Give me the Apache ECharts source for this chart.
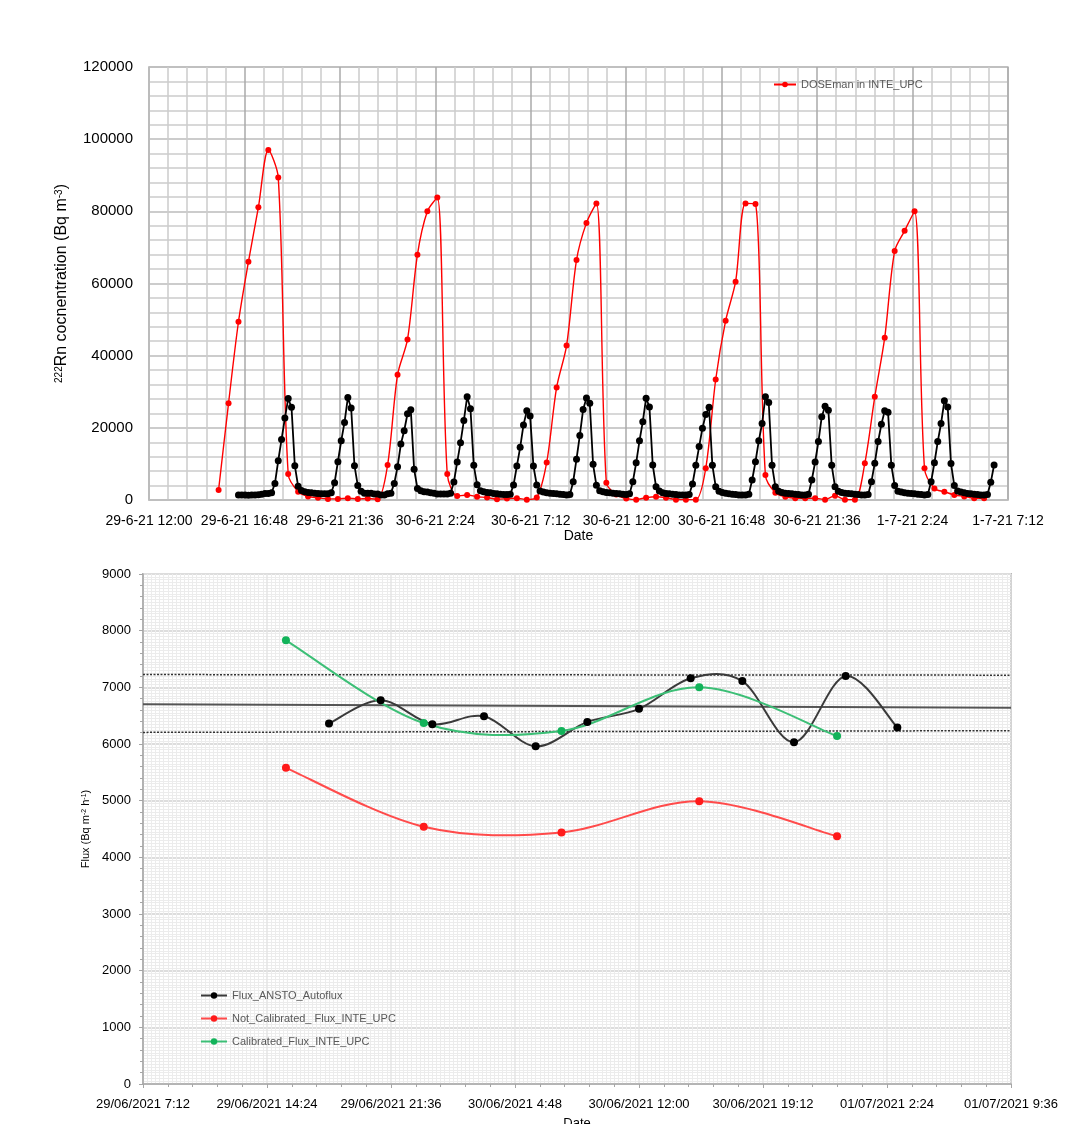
<!DOCTYPE html>
<html>
<head>
<meta charset="utf-8">
<title>Radon concentration and flux, INTE_UPC</title>
<script src="https://cdn.jsdelivr.net/npm/echarts@6/dist/echarts.min.js"></script>
<style>
  html, body { margin: 0; padding: 0; background: #ffffff; }
  #chart { width: 1081px; height: 1124px; }
</style>
</head>
<body>
<div id="chart"></div>
<script>
// ---------------- Upper panel: 222Rn concentration ----------------
// DOSEman readings every 30 minutes, starting 29-6-21 15:30
const dosemanStart = '2021-06-29 15:30';
const dosemanStepMin = 30;
const dosemanValues = [
  2800, 26800, 49400, 66000, 81100, 97000, 89400, 7200, 2300, 1000, 600, 300, 300, 500, 300, 400, 200,
  9700, 34700, 44500, 68000, 80000, 83800, 7200, 1100, 1400, 900, 700, 200, 400, 500, 100, 700,
  10400, 31200, 42800, 66500, 76800, 82200, 4800, 1500, 450, 100, 650, 900, 650, 100, 100, 100,
  8800, 33400, 49700, 60500, 82200, 82000, 6900, 2000, 900, 500, 500, 500, 100, 1200, 100, 100,
  10200, 28600, 45000, 69000, 74600, 80000, 8800, 3200, 2300, 1400, 1000, 500, 500
];

// Reference monitor readings every 10 minutes, starting 29-6-21 16:30
const anstoStart = '2021-06-29 16:30';
const anstoStepMin = 10;
const anstoRnValues = [
  1400, 1400, 1400, 1350, 1400, 1400, 1450, 1600, 1800, 1800, 2000,
  4600, 10900, 16800, 22700, 28100, 25700, 9500, 3800, 2600,
  2300, 2100, 2000, 1900, 1800, 1700, 1700, 1700, 2000,
  4800, 10600, 16400, 21500, 28400, 25500, 9500, 4000, 2400,
  1850, 1850, 1850, 1660, 1660, 1400, 1400, 1700, 1900,
  4600, 9200, 15500, 19200, 23900, 25000, 8500, 3200,
  2590, 2310, 2200, 2030, 1850, 1660, 1660, 1660, 1660, 1850,
  5000, 10500, 15900, 22000, 28600, 25300, 9600, 4250, 2590,
  2300, 2100, 2000, 1800, 1700, 1600, 1500, 1500, 1600,
  4150, 9400, 14600, 20800, 24700, 23300, 9400, 4150, 2500,
  2200, 2000, 1900, 1800, 1700, 1600, 1500, 1400, 1500,
  5070, 11300, 17900, 25100, 28300, 26800, 9900, 4070, 2580,
  2300, 2100, 2000, 1900, 1800, 1700, 1600, 1500, 1700,
  5070, 10300, 16400, 21700, 28200, 25800, 9700, 3700, 2500,
  2000, 1800, 1700, 1600, 1500, 1400, 1400, 1400, 1500,
  4430, 9600, 14800, 19900, 23700, 25700, 9600, 3700, 2400,
  2100, 1900, 1700, 1600, 1500, 1400, 1400, 1400, 1600,
  5540, 10600, 16400, 21200, 28600, 27000, 9600, 3700, 2400,
  2100, 1900, 1800, 1700, 1600, 1500, 1400, 1400, 1600,
  5540, 10500, 16200, 23100, 26000, 24900, 9600, 3700, 2400,
  2100, 1900, 1800, 1700, 1600, 1500, 1400, 1400, 1500,
  5070, 10200, 16200, 21000, 24700, 24300, 9600, 4000, 2400,
  2200, 2000, 1900, 1800, 1700, 1600, 1500, 1400, 1500,
  5070, 10300, 16200, 21200, 27500, 25800, 10100, 4000, 2500,
  2200, 2000, 1800, 1700, 1600, 1500, 1400, 1400, 1500,
  4900, 9700
];

// Upper time axis: 29-6-21 12:00 to 1-7-21 7:12, labels every 4.8 h
const topAxisOrigin = '2021-06-29 12:00';
const topAxisSpanH = 43.2;
const topAxisStepH = 4.8;

// ---------------- Lower panel: exhalation flux ----------------
const anstoFluxTimes = [
  '2021-06-29 18:00', '2021-06-29 21:00', '2021-06-30 00:00', '2021-06-30 03:00',
  '2021-06-30 06:00', '2021-06-30 09:00', '2021-06-30 12:00', '2021-06-30 15:00',
  '2021-06-30 18:00', '2021-06-30 21:00', '2021-07-01 00:00', '2021-07-01 03:00'
];
const anstoFluxValues = [6360, 6770, 6350, 6490, 5960, 6390, 6620, 7160, 7110, 6030, 7200, 6290];

const upcFluxTimes = [
  '2021-06-29 15:30', '2021-06-29 23:30', '2021-06-30 07:30', '2021-06-30 15:30', '2021-06-30 23:30'
];
const notCalibratedValues = [5580, 4540, 4440, 4990, 4370];
const calibratedValues = [7830, 6370, 6230, 7000, 6140];

// Mean level and band across the whole window (left edge, right edge)
const meanFluxLine = [6700, 6640];
const upperBandLine = [7225, 7215];
const lowerBandLine = [6205, 6235];

// Lower time axis: 29/06/2021 7:12 to 01/07/2021 9:36, labels every 7.2 h
const bottomAxisOrigin = '2021-06-29 07:12';
const bottomAxisSpanH = 50.4;
const bottomAxisStepH = 7.2;

// ---------------- helpers ----------------
function parseTime(s) {
  const [d, t] = s.split(' ');
  const [Y, M, D] = d.split('-').map(Number);
  const [h, m] = t.split(':').map(Number);
  return Date.UTC(Y, M - 1, D, h, m);
}
function hoursFrom(origin, ms) { return (ms - parseTime(origin)) / 3600000; }
function regularSeries(origin, start, stepMin, values) {
  const t0 = parseTime(start);
  return values.map((v, i) => [hoursFrom(origin, t0 + i * stepMin * 60000), v]);
}
function pairedSeries(origin, times, values) {
  return times.map((t, i) => [hoursFrom(origin, parseTime(t)), values[i]]);
}
function dateAt(origin, h) {
  return new Date(parseTime(origin) + Math.round(h * 60) * 60000);
}
function pad2(n) { return (n < 10 ? '0' : '') + n; }
function fmtTop(h) {
  const d = dateAt(topAxisOrigin, h);
  return d.getUTCDate() + '-' + (d.getUTCMonth() + 1) + '-' + String(d.getUTCFullYear()).slice(2) +
    ' ' + d.getUTCHours() + ':' + pad2(d.getUTCMinutes());
}
function fmtBottom(h) {
  const d = dateAt(bottomAxisOrigin, h);
  return pad2(d.getUTCDate()) + '/' + pad2(d.getUTCMonth() + 1) + '/' + d.getUTCFullYear() +
    ' ' + d.getUTCHours() + ':' + pad2(d.getUTCMinutes());
}

// Smoothed curve through the points (cardinal spline, tangent = neighbour difference / 6),
// projected through the cartesian coordinate system of the series.
function smoothCurveSeries(points, color) {
  return {
    type: 'custom',
    xAxisIndex: 1, yAxisIndex: 1,
    silent: true, z: 4,
    data: [[points[0][0], points[0][1]]],
    renderItem: function (params, api) {
      const p = points.map(d => api.coord(d));
      let path = 'M' + p[0][0] + ',' + p[0][1];
      for (let i = 0; i < p.length - 1; i++) {
        const p0 = p[i - 1] || p[i], p1 = p[i], p2 = p[i + 1], p3 = p[i + 2] || p[i + 1];
        const c1x = p1[0] + (p2[0] - p0[0]) / 6, c1y = p1[1] + (p2[1] - p0[1]) / 6;
        const c2x = p2[0] - (p3[0] - p1[0]) / 6, c2y = p2[1] - (p3[1] - p1[1]) / 6;
        path += ' C' + c1x + ',' + c1y + ' ' + c2x + ',' + c2y + ' ' + p2[0] + ',' + p2[1];
      }
      return {
        type: 'path',
        shape: { pathData: path },
        style: { fill: 'none', stroke: color, lineWidth: 2 }
      };
    }
  };
}

const FONT = '"Liberation Sans", Arial, sans-serif';
const chart = echarts.init(document.getElementById('chart'), null, { renderer: 'canvas' });

const fluxAnsto = pairedSeries(bottomAxisOrigin, anstoFluxTimes, anstoFluxValues);
const fluxNotCal = pairedSeries(bottomAxisOrigin, upcFluxTimes, notCalibratedValues);
const fluxCal = pairedSeries(bottomAxisOrigin, upcFluxTimes, calibratedValues);

const COL_ANSTO = '#3a3a3a', COL_NOTCAL = '#ff4b4b', COL_CAL = '#3cbf76';

const option = {
  backgroundColor: '#ffffff',
  animation: false,
  textStyle: { fontFamily: FONT },
  grid: [
    { left: 149, top: 67, width: 859, height: 433, show: true, borderColor: '#bfbfbf', borderWidth: 1.5,
      containLabel: false, outerBoundsMode: 'none' },
    { left: 143, top: 574, width: 868, height: 510, show: true, borderColor: '#7f7f7f', borderWidth: 1.5,
      containLabel: false, outerBoundsMode: 'none' }
  ],
  legend: [
    {
      data: ['DOSEman in INTE_UPC'],
      left: 773, top: 79, padding: 0,
      itemWidth: 22, itemHeight: 7,
      textStyle: { fontSize: 11, color: '#595959', fontFamily: FONT }
    },
    {
      data: [
        { name: 'Flux_ANSTO_Autoflux', lineStyle: { color: COL_ANSTO, width: 2, opacity: 1 } },
        { name: 'Not_Calibrated_ Flux_INTE_UPC', lineStyle: { color: COL_NOTCAL, width: 2, opacity: 1 } },
        { name: 'Calibrated_Flux_INTE_UPC', lineStyle: { color: COL_CAL, width: 2, opacity: 1 } }
      ],
      orient: 'vertical',
      left: 200, top: 990, padding: 0,
      itemWidth: 26, itemHeight: 8, itemGap: 12,
      textStyle: { fontSize: 11, color: '#595959', fontFamily: FONT }
    }
  ],
  xAxis: [
    {
      gridIndex: 0, type: 'value',
      min: 0, max: topAxisSpanH, interval: topAxisStepH,
      name: 'Date', nameLocation: 'middle', nameGap: 25,
      nameTextStyle: { fontSize: 14, color: '#000', fontFamily: FONT },
      axisLine: { show: true, lineStyle: { color: '#bfbfbf', width: 1.5 } },
      axisTick: { show: false },
      axisLabel: { formatter: fmtTop, fontSize: 14, color: '#000', margin: 14, fontFamily: FONT },
      splitLine: { show: true, lineStyle: { color: '#aaaaaa', width: 1.5 } },
      minorTick: { show: false, splitNumber: 5 },
      minorSplitLine: { show: true, lineStyle: { color: '#cccccc', width: 1.5 } }
    },
    {
      gridIndex: 1, type: 'value',
      min: 0, max: bottomAxisSpanH, interval: bottomAxisStepH,
      name: 'Date', nameLocation: 'middle', nameGap: 33,
      nameTextStyle: { fontSize: 13, color: '#000', fontFamily: FONT },
      axisLine: { show: true, lineStyle: { color: '#a6a6a6', width: 1.5 } },
      axisTick: { show: true, length: 4, lineStyle: { color: '#a6a6a6' } },
      axisLabel: { formatter: fmtBottom, fontSize: 13, color: '#000', margin: 14, fontFamily: FONT },
      splitLine: { show: true, lineStyle: { color: '#e4e4e4', width: 1.5 } },
      minorTick: { show: true, splitNumber: 5, length: 3, lineStyle: { color: '#a6a6a6' } },
      minorSplitLine: { show: false }
    },
    {
      // fine background grid of the lower panel
      gridIndex: 1, type: 'value',
      min: 0, max: bottomAxisSpanH, interval: bottomAxisStepH,
      axisLine: { show: false }, axisTick: { show: false }, axisLabel: { show: false },
      splitLine: { show: false },
      minorTick: { show: false, splitNumber: 30 },
      minorSplitLine: { show: true, lineStyle: { color: '#ececec', width: 1 } }
    }
  ],
  yAxis: [
    {
      gridIndex: 0, type: 'value',
      min: 0, max: 120000, interval: 20000,
      name: '{sup|222}Rn cocnentration (Bq m{sup|-3})',
      nameLocation: 'middle', nameGap: 79, nameRotate: 90,
      nameTextStyle: {
        fontSize: 16, color: '#000', fontFamily: FONT,
        rich: { sup: { fontSize: 10, verticalAlign: 'top', lineHeight: 11, color: '#000', fontFamily: FONT } }
      },
      axisLine: { show: true, lineStyle: { color: '#bfbfbf', width: 1.5 } },
      axisTick: { show: false },
      axisLabel: { formatter: v => String(v), fontSize: 15, color: '#000', margin: 16, fontFamily: FONT },
      splitLine: { show: true, lineStyle: { color: '#bbbbbb', width: 1.5 } },
      minorTick: { show: false, splitNumber: 5 },
      minorSplitLine: { show: true, lineStyle: { color: '#cccccc', width: 1.5 } }
    },
    {
      gridIndex: 1, type: 'value',
      min: 0, max: 9000, interval: 1000,
      name: 'Flux (Bq m{sup|-2} h{sup|-1})',
      nameLocation: 'middle', nameGap: 46, nameRotate: 90,
      nameTextStyle: {
        fontSize: 11, color: '#000', fontFamily: FONT,
        rich: { sup: { fontSize: 7, verticalAlign: 'top', lineHeight: 8, color: '#000', fontFamily: FONT } }
      },
      axisLine: { show: true, lineStyle: { color: '#a6a6a6', width: 1.5 } },
      axisTick: { show: true, length: 4, lineStyle: { color: '#a6a6a6' } },
      axisLabel: { formatter: v => String(v), fontSize: 13, color: '#000', margin: 12, fontFamily: FONT },
      splitLine: { show: true, lineStyle: { color: '#dddddd', width: 2 } },
      minorTick: { show: true, splitNumber: 5, length: 3, lineStyle: { color: '#a6a6a6' } },
      minorSplitLine: { show: false }
    },
    {
      gridIndex: 1, type: 'value',
      min: 0, max: 9000, interval: 1000,
      axisLine: { show: false }, axisTick: { show: false }, axisLabel: { show: false },
      splitLine: { show: false },
      minorTick: { show: false, splitNumber: 20 },
      minorSplitLine: { show: true, lineStyle: { color: '#ececec', width: 1 } }
    }
  ],
  series: [
    {
      name: 'DOSEman in INTE_UPC', type: 'line',
      xAxisIndex: 0, yAxisIndex: 0,
      data: regularSeries(topAxisOrigin, dosemanStart, dosemanStepMin, dosemanValues),
      smooth: 0.3, clip: true,
      symbol: 'circle', symbolSize: 6,
      lineStyle: { color: '#ff0000', width: 1.4 },
      itemStyle: { color: '#ff0000' },
      z: 3
    },
    {
      name: 'Reference monitor', type: 'line',
      xAxisIndex: 0, yAxisIndex: 0,
      data: regularSeries(topAxisOrigin, anstoStart, anstoStepMin, anstoRnValues),
      smooth: false, clip: true,
      symbol: 'circle', symbolSize: 7,
      lineStyle: { color: '#000000', width: 1.8 },
      itemStyle: { color: '#000000' },
      z: 4
    },
    {
      name: 'Mean flux', type: 'line',
      xAxisIndex: 1, yAxisIndex: 1,
      data: [[0, meanFluxLine[0]], [bottomAxisSpanH, meanFluxLine[1]]],
      symbol: 'none', silent: true,
      lineStyle: { color: '#555555', width: 2 },
      z: 2
    },
    {
      name: 'Upper band', type: 'line',
      xAxisIndex: 1, yAxisIndex: 1,
      data: [[0, upperBandLine[0]], [bottomAxisSpanH, upperBandLine[1]]],
      symbol: 'none', silent: true,
      lineStyle: { color: '#333333', width: 1.5, type: [2, 1.5] },
      z: 2
    },
    {
      name: 'Lower band', type: 'line',
      xAxisIndex: 1, yAxisIndex: 1,
      data: [[0, lowerBandLine[0]], [bottomAxisSpanH, lowerBandLine[1]]],
      symbol: 'none', silent: true,
      lineStyle: { color: '#333333', width: 1.5, type: [2, 1.5] },
      z: 2
    },
    smoothCurveSeries(fluxAnsto, COL_ANSTO),
    smoothCurveSeries(fluxNotCal, COL_NOTCAL),
    smoothCurveSeries(fluxCal, COL_CAL),
    {
      name: 'Flux_ANSTO_Autoflux', type: 'line',
      xAxisIndex: 1, yAxisIndex: 1,
      data: fluxAnsto,
      symbol: 'circle', symbolSize: 8,
      lineStyle: { color: COL_ANSTO, width: 2, opacity: 0 },
      itemStyle: { color: '#000000' },
      z: 5
    },
    {
      name: 'Not_Calibrated_ Flux_INTE_UPC', type: 'line',
      xAxisIndex: 1, yAxisIndex: 1,
      data: fluxNotCal,
      symbol: 'circle', symbolSize: 8,
      lineStyle: { color: COL_NOTCAL, width: 2, opacity: 0 },
      itemStyle: { color: '#ff1a1a' },
      z: 5
    },
    {
      name: 'Calibrated_Flux_INTE_UPC', type: 'line',
      xAxisIndex: 1, yAxisIndex: 1,
      data: fluxCal,
      symbol: 'circle', symbolSize: 8,
      lineStyle: { color: COL_CAL, width: 2, opacity: 0 },
      itemStyle: { color: '#12b35a' },
      z: 5
    }
  ]
};

chart.setOption(option);
</script>
</body>
</html>
